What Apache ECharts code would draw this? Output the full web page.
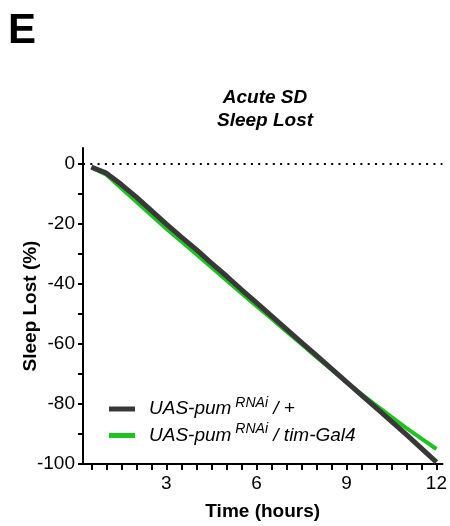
<!DOCTYPE html>
<html>
<head>
<meta charset="utf-8">
<script src="https://cdn.jsdelivr.net/npm/echarts@6/dist/echarts.min.js"></script>
<style>html,body{margin:0;padding:0;background:#fff;}#c{width:450px;height:526px;}</style>
</head>
<body>
<div id="c"></div>
<script>
const hours = [0.5,1,1.5,2,2.5,3,3.5,4,4.5,5,5.5,6,6.5,7,7.5,8,8.5,9,9.5,10,10.5,11,11.5,12];
const controlLost = [-1,-3,-6.8,-11,-15.5,-20,-24.3,-28.5,-33,-37.3,-41.8,-46.2,-50.6,-55,-59.4,-63.8,-68.2,-72.6,-77,-81.4,-85.8,-90.2,-94.8,-99.4];
const timGal4Lost = [-1,-3.5,-8,-12.5,-17,-21.5,-25.8,-30,-34.4,-38.7,-43,-47.3,-51.5,-55.8,-60,-64.3,-68.5,-72.7,-76.7,-80.5,-84.3,-88,-91.5,-95];
const xTickValues = [0.5,1,1.5,2,2.5,3,3.5,4,4.5,5,5.5,6,6.5,7,7.5,8,8.5,9,9.5,10,10.5,11,11.5,12];
const xLabelValues = [3,6,9,12];
const yTickValues = [-100,-90,-80,-70,-60,-50,-40,-30,-20,-10,0];
const yLabelValues = [-100,-80,-60,-40,-20,0];
const seriesNames = ['ctrl','gal4'];

const chart = echarts.init(document.getElementById('c'), null, {renderer:'canvas'});
const font = 'Liberation Sans, Arial, sans-serif';
const rich = {
  i:{fontFamily:font,fontStyle:'italic',fontSize:19,color:'#000'},
  s:{fontFamily:font,fontStyle:'italic',fontSize:14,color:'#000',padding:[0,0,12,4]}
};
chart.setOption({
  animation:false,
  backgroundColor:'#fff',
  graphic:[
    {type:'text',left:8,top:10,style:{text:'E',font:'bold 42px '+font,fill:'#000'}},
    {type:'text',x:265,y:86,style:{text:'Acute SD\nSleep Lost',font:'italic bold 19px '+font,fill:'#000',align:'center',lineHeight:23}}
  ],
  grid:{left:83,right:7,top:148,bottom:61,containLabel:false},
  legend:{
    orient:'vertical',left:104,top:391,itemWidth:26,itemHeight:5,itemGap:4,icon:'rect',
    data:seriesNames,
    formatter:function(n){return n==='ctrl'?'{i|UAS-pum}{s|RNAi}{i| / +}':'{i|UAS-pum}{s|RNAi}{i| / tim-Gal4}';},
    textStyle:{rich:rich,padding:[0,0,0,9]}
  },
  xAxis:{
    type:'value',min:0.22,max:12.2,
    name:'Time (hours)',nameLocation:'middle',nameGap:38,
    nameTextStyle:{fontFamily:font,fontWeight:'bold',fontSize:19,color:'#000'},
    axisLine:{onZero:false,lineStyle:{color:'#000',width:2}},
    axisTick:{show:true,length:6,lineStyle:{color:'#000',width:2},customValues:xTickValues},
    axisLabel:{customValues:xLabelValues,fontFamily:font,fontSize:19,color:'#000',margin:10},
    splitLine:{show:false}
  },
  yAxis:{
    type:'value',min:-100,max:5.4,
    name:'Sleep Lost (%)',nameLocation:'middle',nameGap:43,nameMoveOverlap:false,
    nameTextStyle:{fontFamily:font,fontWeight:'bold',fontSize:19,color:'#000'},
    axisLine:{show:true,onZero:false,lineStyle:{color:'#000',width:2}},
    axisTick:{show:true,length:5,lineStyle:{color:'#000',width:2},customValues:yTickValues},
    axisLabel:{customValues:yLabelValues,fontFamily:font,fontSize:19,color:'#000',margin:8},
    splitLine:{show:false}
  },
  series:[
    {name:'gal4',type:'line',showSymbol:false,smooth:false,
     data:hours.map((h,i)=>[h,timGal4Lost[i]]),
     lineStyle:{color:'#1ec41e',width:4},itemStyle:{color:'#1ec41e'},z:2},
    {name:'ctrl',type:'line',showSymbol:false,smooth:false,
     data:hours.map((h,i)=>[h,controlLost[i]]),
     lineStyle:{color:'#383838',width:5},itemStyle:{color:'#383838'},z:3,
     markLine:{silent:true,symbol:'none',label:{show:false},
       lineStyle:{color:'#000',type:[2,5.3],width:2},data:[{yAxis:0}]}}
  ]
});
</script>
</body>
</html>
